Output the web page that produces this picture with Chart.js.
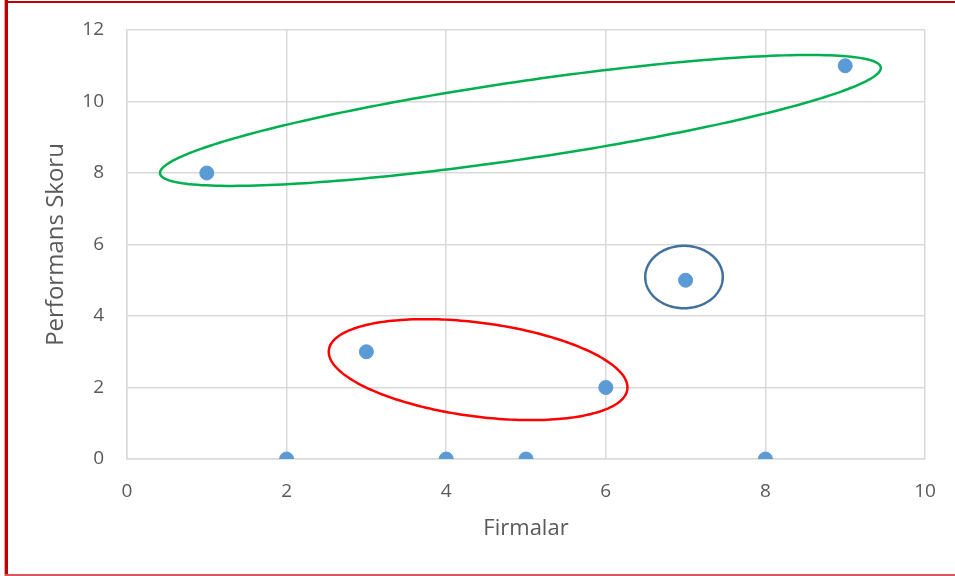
<!DOCTYPE html>
<html>
<head>
<meta charset="utf-8">
<script src="https://cdn.jsdelivr.net/npm/chart.js@4/dist/chart.umd.min.js"></script>
<style>
  html, body { margin: 0; padding: 0; background: #ffffff; }
  #wrap { width: 955px; height: 576px; position: relative; }
</style>
</head>
<body>
<div id="wrap"><canvas id="c" width="955" height="576"></canvas></div>
<script>
// ---- data ----
const firmalar = [1, 2, 3, 4, 5, 6, 7, 8, 9];
const performansSkoru = [8, 0, 3, 0, 0, 2, 5, 0, 11];
const xTicks = [0, 2, 4, 6, 8, 10];
const yTicks = [0, 2, 4, 6, 8, 10, 12];
const xTitle = 'Firmalar';
const yTitle = 'Performans Skoru';

// group ellipses in data units: centre, two half-axis vectors
const groupCentres = [[4.93, 9.47], [4.40, 2.50], [6.98, 5.09]];
const groupAxisU = [[4.516, 1.485], [1.870, -0.552], [0.486, 0]];
const groupAxisV = [[0.0707, -1.071], [-0.0770, -1.300], [0, 0.873]];
const groupColours = ['#00b050', '#ff0000', '#41719c'];

const points = firmalar.map((x, i) => ({ x: x, y: performansSkoru[i] }));

const ellipsePlugin = {
  id: 'groups',
  afterDatasetsDraw(chart) {
    const { ctx, scales: { x, y } } = chart;
    ctx.save();
    ctx.lineWidth = 2.5;
    groupCentres.forEach((c, k) => {
      const u = groupAxisU[k], v = groupAxisV[k];
      ctx.beginPath();
      for (let i = 0; i <= 240; i++) {
        const t = i / 240 * Math.PI * 2;
        const dx = c[0] + u[0] * Math.cos(t) + v[0] * Math.sin(t);
        const dy = c[1] + u[1] * Math.cos(t) + v[1] * Math.sin(t);
        const px = x.getPixelForValue(dx), py = y.getPixelForValue(dy);
        if (i === 0) ctx.moveTo(px, py); else ctx.lineTo(px, py);
      }
      ctx.closePath();
      ctx.strokeStyle = groupColours[k];
      ctx.stroke();
    });
    ctx.restore();
  }
};

const framePlugin = {
  id: 'frame',
  beforeDraw(chart) {
    const ctx = chart.ctx;
    ctx.save();
    ctx.fillStyle = '#ffffff';
    ctx.fillRect(0, 0, chart.width, chart.height);
    ctx.restore();
  },
  afterDraw(chart) {
    const ctx = chart.ctx;
    ctx.save();
    ctx.fillStyle = '#e6a3a3';
    ctx.fillRect(4, 0, 1, chart.height);
    ctx.fillStyle = '#c00000';
    ctx.fillRect(5, 0, 3, chart.height);
    ctx.fillRect(5, 1, chart.width - 5, 2);
    ctx.fillStyle = '#d65a5a';
    ctx.fillRect(5, chart.height - 2, chart.width - 5, 2);
    ctx.restore();
  }
};

new Chart(document.getElementById('c'), {
  type: 'scatter',
  data: {
    datasets: [{
      data: points,
      backgroundColor: '#5b9bd5',
      borderColor: '#5b9bd5',
      borderWidth: 1,
      pointRadius: 7,
      pointHoverRadius: 7
    }]
  },
  options: {
    responsive: false,
    animation: false,
    events: [],
    layout: { padding: { left: 0, top: 30, right: 30, bottom: 0 } },
    plugins: { legend: { display: false }, tooltip: { enabled: false } },
    scales: {
      x: {
        type: 'linear',
        min: xTicks[0],
        max: xTicks[xTicks.length - 1],
        afterBuildTicks(s) { s.ticks = xTicks.map(v => ({ value: v })); },
        afterFit(s) { s.height = 117; s.paddingLeft = 0; s.paddingRight = 0; },
        grid: { color: '#d9d9d9', lineWidth: 1.5, drawTicks: false },
        border: { color: '#d9d9d9', width: 1.5 },
        ticks: { color: '#595959', font: { family: 'Open Sans', size: 19 }, padding: 21 },
        title: { display: true, text: xTitle, color: '#595959', font: { family: 'Open Sans', size: 22 }, padding: { top: 0, bottom: 34 } }
      },
      y: {
        type: 'linear',
        min: yTicks[0],
        max: yTicks[yTicks.length - 1],
        afterBuildTicks(s) { s.ticks = yTicks.map(v => ({ value: v })); },
        afterFit(s) { s.width = 127; s.paddingTop = 0; s.paddingBottom = 0; },
        grid: { color: '#d9d9d9', lineWidth: 1.5, drawTicks: false },
        border: { color: '#d9d9d9', width: 1.5 },
        ticks: { color: '#595959', font: { family: 'Open Sans', size: 19 }, padding: 23 },
        title: { display: true, text: yTitle, color: '#595959', font: { family: 'Open Sans', size: 24 }, padding: { top: 42, bottom: 0 } }
      }
    }
  },
  plugins: [framePlugin, ellipsePlugin]
});
</script>
</body>
</html>
